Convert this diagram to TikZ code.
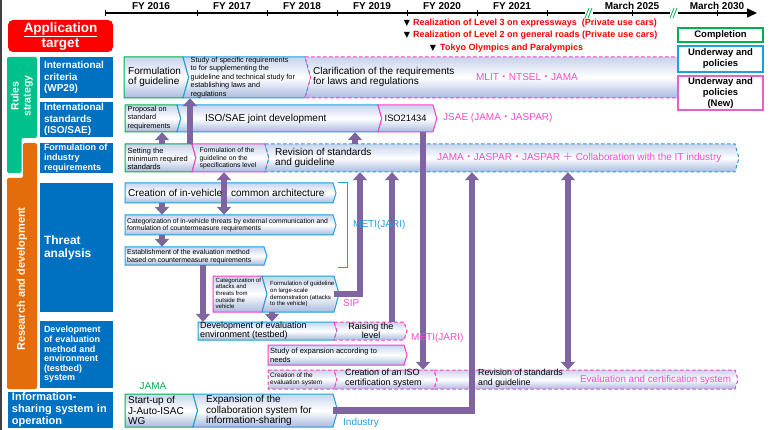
\documentclass[tikz,border=0pt]{standalone}
\usepackage{fontspec}
\setmainfont{Liberation Sans}
\newfontfamily\cjkf{Noto Sans CJK JP}
\newfontfamily\djv{DejaVu Sans}
\usetikzlibrary{arrows.meta,fit}
\pgfdeclarelayer{bg}
\pgfsetlayers{bg,main}

\definecolor{lblue}{RGB}{0,112,192}
\definecolor{gborder}{RGB}{0,176,80}
\definecolor{teal2}{RGB}{0,192,140}
\definecolor{orng}{RGB}{228,108,10}
\definecolor{magn}{RGB}{255,60,200}
\definecolor{mtext}{RGB}{245,75,205}
\definecolor{lgmag}{RGB}{220,100,200}
\definecolor{cblue}{RGB}{30,160,220}
\definecolor{purp}{RGB}{128,100,162}
\definecolor{shtop}{RGB}{200,212,236}
\definecolor{shbot}{RGB}{168,186,222}
\definecolor{redt}{RGB}{255,0,0}
\definecolor{gridc}{RGB}{160,160,160}
\definecolor{sepc}{RGB}{195,195,195}

\newcommand\fsz[2]{\fontsize{#1}{#2}\selectfont}
\newcommand\jdot{{\cjkf ・}}
\newcommand\jplus{{\cjkf ＋}}

% #1 name, #2 style, #3 x1, #4 x2, #5 y1, #6 y2, #7 notch (0/1)
\newcommand\chevbox[7]{%
  \pgfmathsetmacro\chvD{max(3,0.14*(#6-#5))}%
  \pgfmathsetmacro\chvM{(#5+#6)/2}%
  \pgfmathsetmacro\chvT{#4+\chvD}%
  \pgfmathsetmacro\chvL{#3+#7*\chvD}%
  \path[#2] (#3,#5) -- (#4,#5) -- (\chvT,\chvM) -- (#4,#6) -- (#3,#6) -- (\chvL,\chvM) -- cycle;
  \node[inner sep=0pt, fit={(#3,#5) (#4,#6)}] (#1) {};
}

\tikzset{
  boxfill/.style={top color=shtop, bottom color=shbot, middle color=white},
  gbox/.style={boxfill, draw=gborder, line width=1pt},
  bbox/.style={boxfill, draw=cblue, line width=1pt},
  mbox/.style={boxfill, draw=magn, line width=1pt},
  mdash/.style={mbox, dash pattern=on 3.5pt off 2.5pt},
  bdash/.style={bbox, dash pattern=on 3.5pt off 2.5pt},
  txt/.style={inner sep=0pt, anchor=west, align=left},
  parr/.style={draw=purp, line width=6.5pt, -{Triangle[width=14pt,length=8pt]}},
  parrb/.style={draw=purp, line width=6.5pt, {Triangle[width=14pt,length=8pt]}-{Triangle[width=14pt,length=8pt]}},
  labbox/.style={fill=lblue, text=white, inner xsep=4pt, inner ysep=0pt, align=left},
  vgrid/.style={draw=gridc, line width=0.6pt, dash pattern=on 2pt off 2pt},
  hsep/.style={draw=sepc, line width=0.8pt},
  yrlab/.style={inner sep=0pt, font=\bfseries\fsz{10}{10}},
  mstone/.style={txt, text=redt, font=\bfseries\fsz{9}{9}},
  tri/.style={inner sep=0pt, font=\djv\fsz{8}{8}},
  legbox/.style={fill=white, line width=1.4pt, minimum width=85pt, align=center, inner sep=0pt, font=\bfseries\fsz{9.5}{11}},
}

\begin{document}
\begin{tikzpicture}[x=1pt,y=-1pt]
\useasboundingbox (0,0) rectangle (773,430);
\fill[white] (0,0) rectangle (773,430);
\draw[line width=1.5pt, draw=black!75] (0.75,0) -- (0.75,430);

% ---------- timeline
\coordinate (ax0) at (105,13);
\coordinate (ax1) at (757,13);
\draw[line width=1.5pt, -{Triangle[width=9pt,length=10pt]}] (ax0) -- (ax1);
\foreach \x in {105,197,267,337,407,477,547,632,717} \draw[line width=0.9pt] (\x,10) -- (\x,16);
\foreach \x in {589,674} {
  \fill[white] (\x-4,9) rectangle (\x+4,17);
  \draw[gborder, line width=0.8pt] (\x-4,18) -- (\x,8) (\x-1,18) -- (\x+3,8);
}
\foreach \x/\t/\n in {151/FY 2016/y16, 232/FY 2017/y17, 302/FY 2018/y18, 372/FY 2019/y19, 442/FY 2020/y20, 512/FY 2021/y21, 632/March 2025/y25, 717/March 2030/y30}
  \node[yrlab] (\n) at (\x,6) {\t};

% ---------- milestones
\node[tri] (tri1) at (407,23) {▼};
\node[mstone] (ms1) at (413,23) {Realization of Level 3 on expressways\ \ (Private use cars)};
\node[tri] (tri2) at (407,35.5) {▼};
\node[mstone] (ms2) at (413,35.5) {Realization of Level 2 on general roads (Private use cars)};
\node[tri] (tri3) at (433,48) {▼};
\node[mstone] (ms3) at (440,48) {Tokyo Olympics and Paralympics};

% ---------- left labels
\node[fill=redt, rounded corners=5pt, minimum width=105pt, minimum height=32pt, inner sep=0pt] (app) at (60.5,36) {};
\node[inner sep=0pt, text=white, align=center, font=\bfseries\fsz{13.5}{15}] (app-t) at (60.5,37.5) {\underline{Application}\\\underline{target}};
\fill[teal2, rounded corners=2pt] (7,57) -- (37,57) -- (37,138) -- (21.5,138) -- (21.5,173) -- (7,173) -- cycle;
\fill[orng, rounded corners=2pt] (23,143) -- (37,143) -- (37,389) -- (7,389) -- (7,178) -- (23,178) -- cycle;
\node[rotate=90, inner sep=0pt, text=white, align=center, font=\bfseries\fsz{10.5}{12}] (rules) at (22,96) {Rules\\strategy};
\node[rotate=90, inner sep=0pt, text=white, font=\bfseries\fsz{11}{12}] (resdev) at (22,279) {Research and development};

\node[labbox, minimum width=73pt, minimum height=41pt, text width=65pt, font=\bfseries\fsz{10}{11.5}] (l1) at (76.5,77.5) {International\\criteria\\(WP29)};
\node[labbox, minimum width=73pt, minimum height=35pt, text width=65pt, font=\bfseries\fsz{10}{11.2}] (l2) at (76.5,119.5) {International\\standards\\(ISO/SAE)};
\node[labbox, minimum width=73pt, minimum height=30pt, text width=65pt, font=\bfseries\fsz{9}{9.8}] (l3) at (76.5,158) {Formulation of\\industry\\requirements};
\node[labbox, minimum width=73pt, minimum height=129pt, text width=65pt, font=\bfseries\fsz{12}{13.2}] (l4) at (76.5,247.5) {Threat\\analysis};
\node[labbox, minimum width=73pt, minimum height=67pt, text width=65pt, font=\bfseries\fsz{9}{9.6}] (l5) at (76.5,354.5) {Development\\of evaluation\\method and\\environment\\(testbed)\\system};
\node[labbox, minimum width=105pt, minimum height=36pt, text width=97pt, font=\bfseries\fsz{11}{12}] (l6) at (60.5,410) {Information-\\sharing system in\\operation};

% ---------- boxes: row 1
\chevbox{formguide}{gbox}{124}{183}{57}{98}{0}
\chevbox{study}{bbox}{183}{305}{57}{98}{1}
\chevbox{clarif}{mdash}{305}{700}{57}{98}{1}
% row 2
\chevbox{proposal}{gbox}{125}{177}{105}{132}{0}
\chevbox{isosae}{bbox}{177}{378}{105}{132}{1}
\chevbox{iso21434}{mbox}{378}{433}{105}{132}{1}
% row 3
\chevbox{setting}{gbox}{125}{192}{144}{172}{0}
\chevbox{formspec}{mbox}{192}{265}{144}{172}{1}
\chevbox{revision}{bdash}{265}{735}{144}{172}{1}
% threat analysis
\chevbox{create}{bbox}{125}{333}{183}{203}{0}
\chevbox{catthreat}{bbox}{125}{333}{215}{235}{0}
\chevbox{establish}{bbox}{125}{264}{247}{265}{0}
\chevbox{catattack}{mbox}{213}{262}{276}{312}{0}
\chevbox{formlarge}{bbox}{262}{334}{276}{312}{1}
\draw[cblue, line width=1pt] (338,183) -- (347,183) -- (347,267) -- (338,267);
% development
\chevbox{develop}{bbox}{198}{334}{322}{340}{0}
\chevbox{raising}{mdash}{334}{404}{322}{340}{1}
\chevbox{studyexp}{mbox}{268}{404}{345}{365}{0}
\chevbox{creeval}{mdash}{268}{334}{370}{389}{0}
\chevbox{creiso}{mdash}{334}{434}{370}{389}{1}
\chevbox{evalbox}{mdash}{434}{735}{370}{389}{1}
% information sharing
\chevbox{startup}{gbox}{125}{193}{394}{427}{0}
\chevbox{expansion}{bbox}{193}{333}{394}{427}{1}

% ---------- purple arrows (front)
\draw[parr] (setting.north -| 190,0) -- (study.south -| 190,0);
\draw[parr] (setting.north -| 162,0) -- (proposal.south -| 162,0);
\draw[parr] (revision.north -| 355,0) -- (isosae.south -| 355,0);
\draw[parrb] (formspec.south -| 224,0) -- (catthreat.north -| 224,0);
\draw[parr] (create.south -| 162,0) -- (catthreat.north -| 162,0);
\draw[parr] (catthreat.south -| 162,0) -- (establish.north -| 162,0);
\draw[parr] (establish.south -| 203,0) -- (develop.north -| 203,0);
\draw[parr] (formlarge.south -| 272,0) -- (develop.north -| 272,0);
\draw[parr] (formlarge.east) -| (revision.south -| 360,0);
\draw[parr] (raising.north -| 392,0) -- (revision.south -| 392,0);
\draw[parr] (iso21434.south -| 423,0) -- (creiso.north -| 423,0);
\draw[parr] (expansion.east) -| (revision.south -| 472,0);
\draw[parrb] (evalbox.north -| 568,0) -- (revision.south -| 568,0);

% ---------- texts
\node[txt, font=\fsz{10}{10.5}] (formguide-t) at (128,77) {Formulation\\of guideline};
\node[txt, font=\fsz{7.3}{8.4}] (study-t) at (190.5,77.5) {Study of specific requirements\\to for supplementing the\\guideline and technical study for\\establishing laws and\\regulations};
\node[txt, font=\fsz{10}{10.5}] (clarif-t) at (313,77) {Clarification of the requirements\\for laws and regulations};
\node[inner sep=0pt, text=mtext, font=\fsz{10}{10}] (mlit) at (527,77) {MLIT\jdot NTSEL\jdot JAMA};

\node[txt, font=\fsz{7.3}{8.7}] (proposal-t) at (127.5,118) {Proposal on\\standard\\requirements};
\node[txt, font=\fsz{10}{10}] (isosae-t) at (205,118.5) {ISO/SAE joint development};
\node[txt, font=\fsz{9.3}{9.3}] (iso21434-t) at (384.5,118) {ISO21434};
\node[txt, text=mtext, font=\fsz{10}{10}] (jsae) at (443,118) {JSAE (JAMA\jdot JASPAR)};

\node[txt, font=\fsz{7.5}{8}] (setting-t) at (127.5,158.5) {Setting the\\minimum required\\standards};
\node[txt, font=\fsz{6.8}{7.3}] (formspec-t) at (199.5,158.3) {Formulation of the\\guideline on the\\specifications level};
\node[txt, font=\fsz{10}{10.6}] (revision-t) at (275,158) {Revision of standards\\and guideline};
\node[txt, text=mtext, font=\fsz{10}{10}] (jama) at (437,158) {JAMA\jdot JASPAR\jdot JASPAR \jplus\ Collaboration with the IT industry};

\node[txt, font=\fsz{10}{10}] (create-t) at (128,193) {Creation of in-vehicle\hspace{9pt}common architecture};
\node[txt, font=\fsz{6.8}{7.3}] (catthreat-t) at (127,225.3) {Categorization of in-vehicle threats by external communication and\\formulation of countermeasure requirements};
\node[txt, font=\fsz{7}{8.3}] (establish-t) at (127,256.8) {Establishment of the evaluation method\\based on countermeasure requirements};
\node[txt, font=\fsz{6}{6.6}] (catattack-t) at (215.5,293.3) {Categorization of\\attacks and\\threats from\\outside the\\vehicle};
\node[txt, font=\fsz{6}{6.6}] (formlarge-t) at (270,294.2) {Formulation of guideline\\on large-scale\\demonstration (attacks\\to the vehicle)};
\node[txt, text=cblue, font=\fsz{10}{10}] (meti1) at (353,225) {METI(JARI)};
\node[txt, text=mtext, font=\fsz{10}{10}] (sip) at (343,303) {SIP};

\node[txt, font=\fsz{9}{8.6}] (develop-t) at (200,330.8) {Development of evaluation\\environment (testbed)};
\node[inner sep=0pt, align=center, font=\fsz{9}{8.6}] (raising-t) at (371,330.8) {Raising the\\level};
\node[txt, text=mtext, font=\fsz{10}{10}] (meti2) at (411,338) {METI(JARI)};
\node[txt, font=\fsz{7.5}{8.3}] (studyexp-t) at (270,355.2) {Study of expansion according to\\needs};
\node[txt, font=\fsz{6.5}{6.8}] (creeval-t) at (270,379) {Creation of the\\evaluation system};
\node[txt, font=\fsz{9}{10}] (creiso-t) at (345,378.3) {Creation of an ISO\\certification system};
\node[txt, font=\fsz{8.8}{10}] (evalrev-t) at (478,378.3) {Revision of standards\\and guideline};
\node[txt, text=mtext, font=\fsz{9.8}{10}] (evalcert) at (580,380) {Evaluation and certification system};

\node[inner sep=0pt, text=gborder, font=\fsz{10}{10}] (jamag) at (153,386) {JAMA};
\node[txt, font=\fsz{10}{10.5}] (startup-t) at (128,410.5) {Start-up of\\J-Auto-ISAC\\WG};
\node[txt, font=\fsz{10}{10.5}] (expansion-t) at (206,410.5) {Expansion of the\\collaboration system for\\information-sharing};
\node[txt, text=cblue, font=\fsz{10}{10}] (industry) at (343,423) {Industry};

% ---------- legend
\node[legbox, draw=gborder, minimum height=14pt] (lg1) at (720.5,35) {Completion};
\node[legbox, draw=cblue, minimum height=26pt] (lg2) at (720.5,59) {Underway and\\policies};
\node[legbox, draw=lgmag, minimum height=34pt] (lg3) at (720.5,93) {Underway and\\policies\\(New)};

% ---------- background layer
\begin{pgfonlayer}{bg}
\foreach \x in {197,267,337,407,477,547,632,717} \draw[vgrid] (\x,17) -- (\x,430);
\foreach \y in {100,139,177,316} \draw[hsep] (113,\y) -- (763,\y);
\draw[hsep] (3,390) -- (763,390);
\draw[draw={rgb,255:red,205;green,225;blue,195}, line width=0.8pt] (102,53.5) -- (763,53.5);
\draw[parr] (isosae.south -| 248,0) |- (creeval.west);
\end{pgfonlayer}
\end{tikzpicture}
\end{document}
